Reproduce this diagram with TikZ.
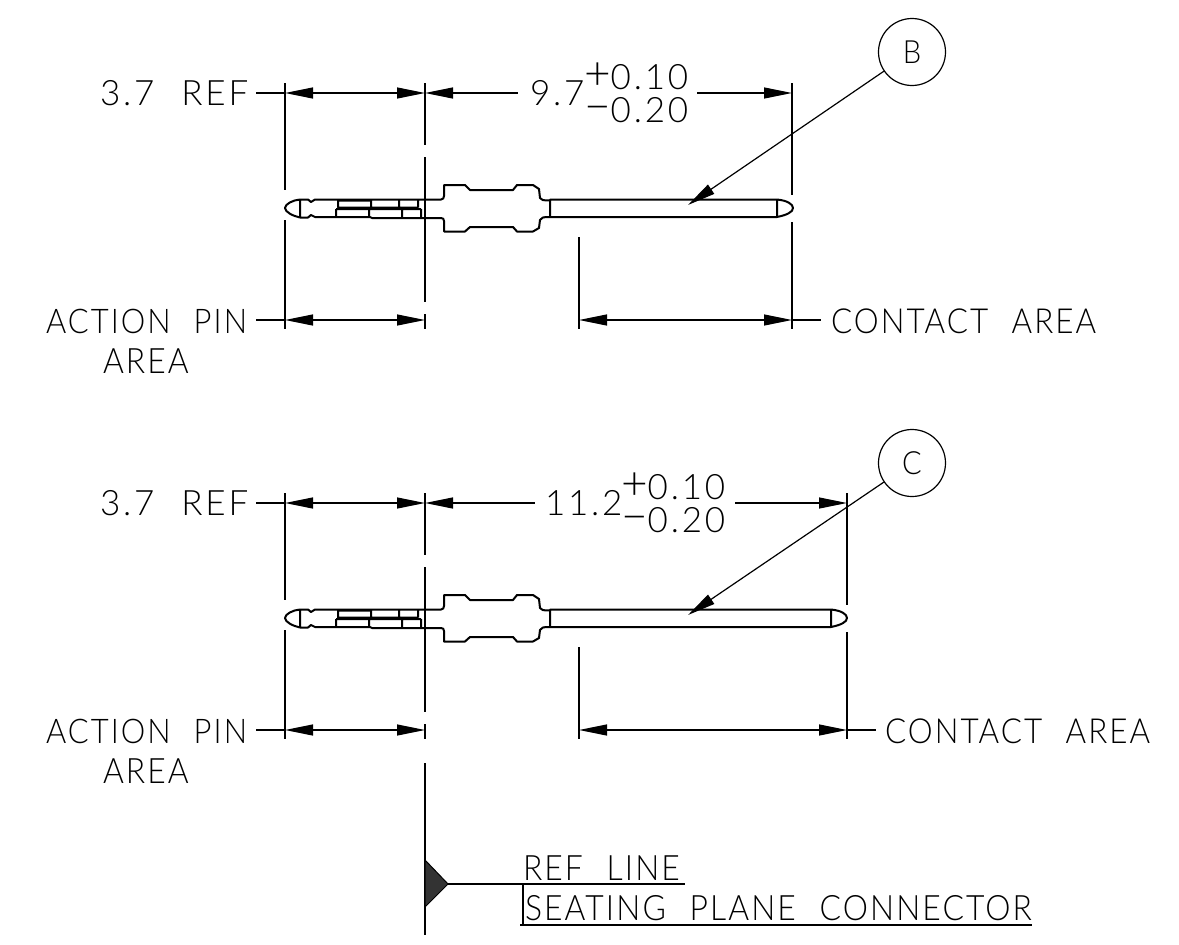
\documentclass[tikz,border=0pt]{standalone}
\usepackage{fontspec}
\setmainfont{Lato}[UprightFont={* Light},FakeStretch=0.91,LetterSpace=6,WordSpace=2.2]
\newfontfamily\dimfont{Lato}[UprightFont={* Light},LetterSpace=8,WordSpace=2.2]
\usetikzlibrary{arrows.meta}
\newcommand{\bigsign}[1]{\smash{\fontsize{46}{46}\selectfont #1}}
\tikzset{
  dimline/.style={line width=1.2pt, {Triangle[length=28pt,width=11pt]}-{Triangle[length=28pt,width=11pt]}},
  endline/.style={line width=1.2pt, -{Triangle[length=28pt,width=11pt]}},
  startline/.style={line width=1.2pt, {Triangle[length=28pt,width=11pt]}-},
  plainline/.style={line width=1.2pt},
  extline/.style={line width=1.3pt},
  label/.style={inner sep=0pt, outer sep=0pt, anchor=base west, font=\fontsize{35}{35}\selectfont},
  actlabel/.style={label, font=\fontsize{34}{35}\selectfont},
  contlabel/.style={label, font=\fontsize{34.5}{35}\selectfont},
  dimlabel/.style={label, font=\fontsize{35}{35}\dimfont},
  balloon/.style={circle, draw, line width=1.2pt, minimum size=67pt, inner sep=0pt, font=\fontsize{32}{32}\selectfont},
  pinbody/.pic={
    \draw[line width=2pt, line join=round]
      (300,199.5) ..controls (293,200) and (285,204) .. (285,208) ..controls (285,212) and (293,216) .. (300,217.5)
      (300,199.5) -- (300,217.5)
      (300,199.5) -- (308,199.5) -- (311,202) -- (315,199.5) -- (441,199.5)
        ..controls (443,199.5) and (444,198) .. (444,196) -- (444,185) -- (465,185) -- (470,190)
        -- (513,190) -- (517,185) -- (533,185) -- (539,189) -- (540,198)
        ..controls (541,200) and (543,200.5) .. (550,200.5) -- (550,199.5) -- (#1,199.5)
      (300,217.5) -- (308,217.5) -- (311,215) -- (315,217) -- (370,217) -- (372,218) -- (441,218)
        ..controls (443,218) and (444,219) .. (444,221) -- (444,231.5) -- (465,231.5) -- (470,227)
        -- (513,227) -- (517,231.5) -- (533,231.5) -- (539,228) -- (540,220)
        ..controls (541,217.5) and (543,217) .. (550,217) -- (#1,217)
      (550,200) -- (550,217)
      (#1,199.5) -- (#1,217)
      (#1,199.5) ..controls ({#1+10},200.5) and ({#1+16},204) .. ({#1+16},208) ..controls ({#1+16},212) and ({#1+10},215) .. (#1,217)
      % slots
      (338,200.5) -- (371,200.5) (338,200.5) -- (338,207.5) -- (418,207.5) (371,199.5) -- (371,207.5)
      (399,199.5) -- (399,207.5) (418,199.5) -- (418,207.5)
      (336,209) -- (421,209) (336,209) -- (336,217) (369,209) -- (369,217)
      (402,209) -- (402,218) (421,209) -- (421,218);
  }
}
\begin{document}
\begin{tikzpicture}[x=1pt, y=-1pt]
    \useasboundingbox (0,0) rectangle (1179,945);

    % Upper pin
    \pic at (0,0) {pinbody=777};
    \coordinate (ExtA1t) at (285,83);
    \coordinate (ExtA1m) at (285,190);
    \coordinate (ExtA1n) at (285,220);
    \coordinate (ExtA1b) at (285,329);
    \coordinate (Ref1t) at (425,83);
    \coordinate (Ref1u) at (425,145);
    \coordinate (Ref1v) at (425,157);
    \coordinate (Ref1w) at (425,302);
    \coordinate (Ref1x) at (425,314);
    \coordinate (Ref1b) at (425,329);
    \coordinate (End1t) at (792,83);
    \coordinate (End1m) at (792,195);
    \coordinate (End1n) at (792,222);
    \coordinate (End1b) at (792,329);
    \coordinate (Con1t) at (579,237);
    \coordinate (Con1b) at (579,329);
    \draw[extline] (ExtA1t) -- (ExtA1m) (ExtA1n) -- (ExtA1b);
    \draw[extline] (Ref1t) -- (Ref1u) (Ref1v) -- (Ref1w) (Ref1x) -- (Ref1b);
    \draw[extline] (End1t) -- (End1m) (End1n) -- (End1b);
    \draw[extline] (Con1t) -- (Con1b);

    \node (RefTxt1) [dimlabel] at (100,105) {3.7 REF};
    \node (Len1) [dimlabel] at (530,105) {9.7};
    \node (Plus1) [dimlabel] at (584,89) {\bigsign{+}0.10};
    \node (Minus1) [dimlabel] at (584,122) {\bigsign{−}0.20};
    \node (Act1) [actlabel] at (46,333) {ACTION PIN};
    \node (ActB1) [label] at (103,373) {AREA};
    \node (Cont1) [contlabel] at (831,333) {CONTACT AREA};

    \coordinate (RefL1) at (256,93);
    \coordinate (A1t) at (285,93);
    \coordinate (A2t) at (425,93);
    \coordinate (LenL1) at (518,93);
    \coordinate (LenR1) at (697,93);
    \coordinate (A3t) at (792,93);
    \draw[plainline] (RefL1) -- (A1t);
    \draw[dimline] (A1t) -- (A2t);
    \draw[startline] (A2t) -- (LenL1);
    \draw[endline] (LenR1) -- (A3t);

    \coordinate (ActL1) at (256,320);
    \coordinate (A1b) at (285,320);
    \coordinate (A2b) at (425,320);
    \coordinate (A4b) at (579,320);
    \coordinate (A3b) at (792,320);
    \coordinate (ContR1) at (821,320);
    \draw[plainline] (ActL1) -- (A1b);
    \draw[dimline] (A1b) -- (A2b);
    \draw[dimline] (A4b) -- (A3b);
    \draw[plainline] (A3b) -- (ContR1);

    \node (B1) [balloon] at (912,52) {B};
    \coordinate (TipB) at (688,205);
    \draw[endline] (B1) -- (TipB);

    % Lower pin
    \pic at (0,410) {pinbody=831};
    \coordinate (ExtA2t) at (285,493);
    \coordinate (ExtA2m) at (285,600);
    \coordinate (ExtA2n) at (285,630);
    \coordinate (ExtA2b) at (285,739);
    \coordinate (Ref2t) at (425,493);
    \coordinate (Ref2u) at (425,555);
    \coordinate (Ref2v) at (425,567);
    \coordinate (Ref2w) at (425,712);
    \coordinate (Ref2x) at (425,724);
    \coordinate (Ref2b) at (425,739);
    \coordinate (End2t) at (847,493);
    \coordinate (End2m) at (847,605);
    \coordinate (End2n) at (847,632);
    \coordinate (End2b) at (847,739);
    \coordinate (Con2t) at (579,647);
    \coordinate (Con2b) at (579,739);
    \draw[extline] (ExtA2t) -- (ExtA2m) (ExtA2n) -- (ExtA2b);
    \draw[extline] (Ref2t) -- (Ref2u) (Ref2v) -- (Ref2w) (Ref2x) -- (Ref2b);
    \draw[extline] (End2t) -- (End2m) (End2n) -- (End2b);
    \draw[extline] (Con2t) -- (Con2b);

    \node (RefTxt2) [dimlabel] at (100,515) {3.7 REF};
    \node (Len2) [dimlabel] at (545,515) {11.2};
    \node (Plus2) [dimlabel] at (621,499) {\bigsign{+}0.10};
    \node (Minus2) [dimlabel] at (621,532) {\bigsign{−}0.20};
    \node (Act2) [actlabel] at (46,743) {ACTION PIN};
    \node (ActB2) [label] at (103,783) {AREA};
    \node (Cont2) [contlabel] at (885,743) {CONTACT AREA};

    \coordinate (RefL2) at (256,503);
    \coordinate (C1t) at (285,503);
    \coordinate (C2t) at (425,503);
    \coordinate (LenL2) at (535,503);
    \coordinate (LenR2) at (735,503);
    \coordinate (C3t) at (847,503);
    \draw[plainline] (RefL2) -- (C1t);
    \draw[dimline] (C1t) -- (C2t);
    \draw[startline] (C2t) -- (LenL2);
    \draw[endline] (LenR2) -- (C3t);

    \coordinate (ActL2) at (256,730);
    \coordinate (C1b) at (285,730);
    \coordinate (C2b) at (425,730);
    \coordinate (C4b) at (579,730);
    \coordinate (C3b) at (847,730);
    \coordinate (ContR2) at (876,730);
    \draw[plainline] (ActL2) -- (C1b);
    \draw[dimline] (C1b) -- (C2b);
    \draw[dimline] (C4b) -- (C3b);
    \draw[plainline] (C3b) -- (ContR2);

    \node (C1) [balloon] at (912,463) {C};
    \coordinate (TipC) at (688,615);
    \draw[endline] (C1) -- (TipC);

    % Ref line
    \coordinate (SeatT) at (425,763);
    \coordinate (SeatB) at (425,935);
    \coordinate (TriT) at (425,860);
    \coordinate (TriB) at (425,907);
    \coordinate (TriR) at (448,884);
    \coordinate (Knee) at (523,884);
    \coordinate (KneeB) at (523,926);
    \coordinate (UlineA) at (685,884);
    \coordinate (UlineB) at (520,925);
    \coordinate (UlineC) at (1032,925);
    \draw[extline] (SeatT) -- (SeatB);
    \draw[line width=1pt, fill=black!80] (TriT) -- (TriR) -- (TriB) -- cycle;
    \draw[line width=1.8pt] (TriR) -- (Knee) -- (KneeB);
    \draw[plainline] (Knee) -- (UlineA);
    \draw[plainline] (UlineB) -- (UlineC);
    \node (RefLine) [label] at (523,880) {REF LINE};
    \node (Seat) [label] at (525,920) {SEATING PLANE CONNECTOR};
\end{tikzpicture}
\end{document}
